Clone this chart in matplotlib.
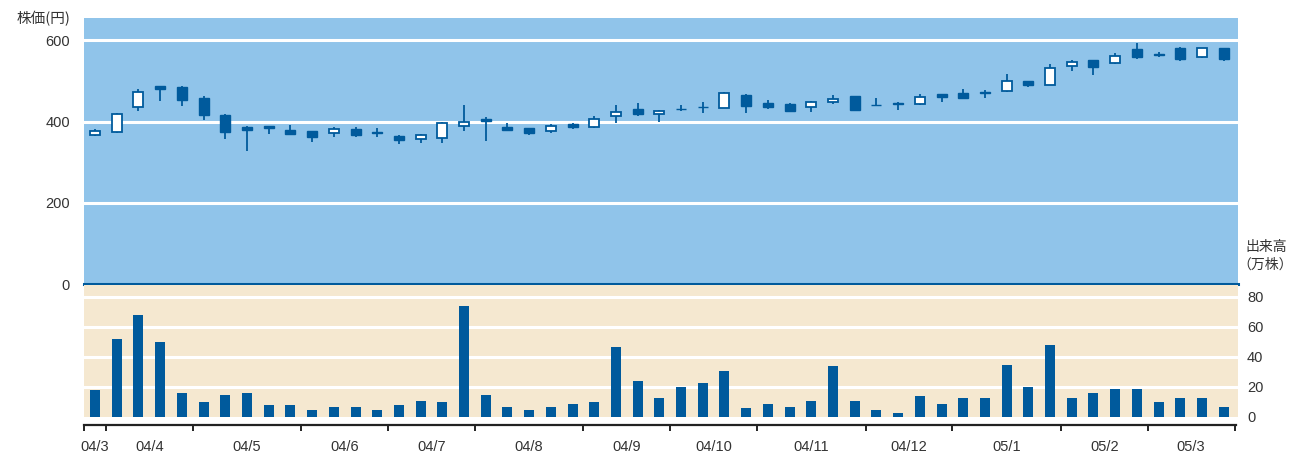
import matplotlib
matplotlib.use('Agg')
import matplotlib.pyplot as plt
import numpy as np

# ---------------- data ----------------
month_labels = ['04/3', '04/4', '04/5', '04/6', '04/7', '04/8', '04/9',
                '04/10', '04/11', '04/12', '05/1', '05/2', '05/3']
weeks_per_month = [1, 4, 5, 4, 4, 5, 4, 4, 5, 4, 5, 4, 4]

opens = [368, 375, 437, 487, 485, 457, 417, 387, 389, 380, 376, 372, 381, 374,
         364, 358, 359, 390, 406, 386, 384, 377, 394, 386, 413, 431, 418, 432,
         437, 434, 466, 445, 444, 437, 447, 462, 442, 446, 443, 467, 471, 472,
         475, 500, 491, 538, 551, 543, 578, 567, 581, 560, 580]
closes = [377, 418, 473, 479, 452, 417, 374, 379, 384, 369, 363, 381, 366, 372,
          354, 366, 396, 400, 401, 379, 373, 388, 386, 407, 424, 418, 425, 430,
          435, 470, 438, 436, 426, 448, 456, 428, 440, 444, 461, 461, 458, 471,
          501, 489, 531, 546, 534, 562, 560, 563, 553, 580, 554]
highs = [382, 422, 480, 488, 487, 462, 419, 388, 390, 391, 376, 386, 387, 385,
         366, 370, 398, 440, 411, 396, 385, 395, 396, 413, 442, 446, 429, 442,
         449, 472, 467, 454, 445, 451, 466, 463, 457, 447, 469, 468, 481, 477,
         517, 501, 541, 551, 552, 568, 593, 572, 583, 582, 581]
lows = [364, 372, 426, 450, 438, 405, 358, 327, 369, 369, 349, 361, 362, 363,
        344, 348, 348, 376, 352, 376, 368, 373, 381, 384, 397, 413, 399, 426,
        421, 433, 422, 431, 425, 423, 443, 427, 439, 429, 440, 448, 456, 457,
        473, 484, 489, 525, 514, 541, 553, 559, 548, 557, 548]
volume = [18, 52, 68, 50, 16, 10, 15, 16, 8, 8, 4.5, 7, 7, 5, 8, 11, 10, 74,
          15, 6.5, 4.5, 7, 9, 10, 47, 24, 13, 20, 23, 31, 6, 8.5, 6.5, 11, 34,
          11, 5, 3, 14, 8.5, 13, 13, 35, 20, 48, 13, 16, 18.5, 18.5, 10, 12.5,
          12.5, 7]

price_ticks = [0, 200, 400, 600]
volume_ticks = [0, 20, 40, 60, 80]

# ---------------- style ----------------
DARK = '#005a9c'
BLUE_BG = '#90c4ea'
BEIGE_BG = '#f5e8d0'
TEXT = '#333333'
JP = ['Noto Sans CJK JP', 'Liberation Sans', 'DejaVu Sans']
plt.rcParams['font.family'] = ['Liberation Sans', 'DejaVu Sans']

W, H = 1291, 454
fig = plt.figure(figsize=(W / 100, H / 100), dpi=100)
fig.patch.set_facecolor('white')

def fx(px):
    return px / W

def fy(py):
    return 1 - py / H

left, right = 84, 1238
ax1 = fig.add_axes([fx(left), fy(284), fx(right - left), (284 - 18) / H])
ax2 = fig.add_axes([fx(left), fy(417), fx(right - left), (417 - 285) / H])

x = np.arange(len(opens))
xlim = (-0.51, 52.66)

# ---------- price panel ----------
ax1.set_facecolor(BLUE_BG)
ax1.set_xlim(*xlim)
ax1.set_ylim(0, 655)
for t in price_ticks[1:]:
    ax1.axhline(t, color='white', lw=2.2, zorder=1)
for s in ['top', 'left', 'right']:
    ax1.spines[s].set_visible(False)
ax1.spines['bottom'].set_color(DARK)
ax1.spines['bottom'].set_linewidth(2.2)
ax1.spines['bottom'].set_zorder(5)
ax1.set_xticks([])
ax1.set_yticks(price_ticks)
ax1.set_yticklabels([str(t) for t in price_ticks], fontsize=10.5, color=TEXT)
ax1.tick_params(axis='y', length=0, pad=10)

o = np.array(opens, float)
c = np.array(closes, float)
hi = np.array(highs, float)
lo = np.array(lows, float)
up = c >= o
ax1.vlines(x, lo, hi, color=DARK, lw=1.3, zorder=2)
bottoms = np.minimum(o, c)
heights = np.maximum(np.abs(c - o), 1.5)
ax1.bar(x[up], heights[up], bottom=bottoms[up], width=0.46,
        facecolor='white', edgecolor=DARK, linewidth=1.3, zorder=3)
ax1.bar(x[~up], heights[~up], bottom=bottoms[~up], width=0.46,
        facecolor=DARK, edgecolor=DARK, linewidth=1.0, zorder=3)

# ---------- volume panel ----------
ax2.set_facecolor(BEIGE_BG)
ax2.set_xlim(*xlim)
ax2.set_ylim(0, 88)
for t in volume_ticks[1:]:
    ax2.axhline(t, color='white', lw=2.2, zorder=1)
ax2.bar(x, volume, width=0.46, color=DARK, zorder=3)
for s in ['top', 'left', 'right']:
    ax2.spines[s].set_visible(False)
ax2.yaxis.tick_right()
ax2.set_yticks(volume_ticks)
ax2.set_yticklabels([str(t) for t in volume_ticks], fontsize=10.5, color=TEXT)
ax2.tick_params(axis='y', length=0, pad=6.5)

# month boundaries and labels
bounds = np.concatenate([[0], np.cumsum(weeks_per_month)]) - 0.5
centers = (bounds[:-1] + bounds[1:]) / 2
ax2.spines['bottom'].set_position(('outward', 5.8))
ax2.spines['bottom'].set_color('#222222')
ax2.spines['bottom'].set_linewidth(1.6)
ax2.spines['bottom'].set_bounds(xlim[0], bounds[-1] + 0.05)
ax2.set_xticks(bounds)
ax2.set_xticklabels([''] * len(bounds))
ax2.tick_params(axis='x', which='major', direction='out', length=4.5,
                width=1.4, color='#222222')
ax2.set_xticks(centers, minor=True)
ax2.set_xticklabels(month_labels, minor=True, fontsize=10.5, color=TEXT)
ax2.tick_params(axis='x', which='minor', length=0, pad=11)

# axis titles
fig.text(fx(70), fy(19), '株価(円)', ha='right', va='center', fontsize=10.5,
         color=TEXT, family=JP)
fig.text(fx(1245), fy(247), '出来高', ha='left', va='center', fontsize=10,
         color=TEXT, family=JP)
fig.text(fx(1265), fy(265), '（万株）', ha='center', va='center', fontsize=10,
         color=TEXT, family=JP)

fig.savefig('out.png', dpi=100, facecolor='white')
